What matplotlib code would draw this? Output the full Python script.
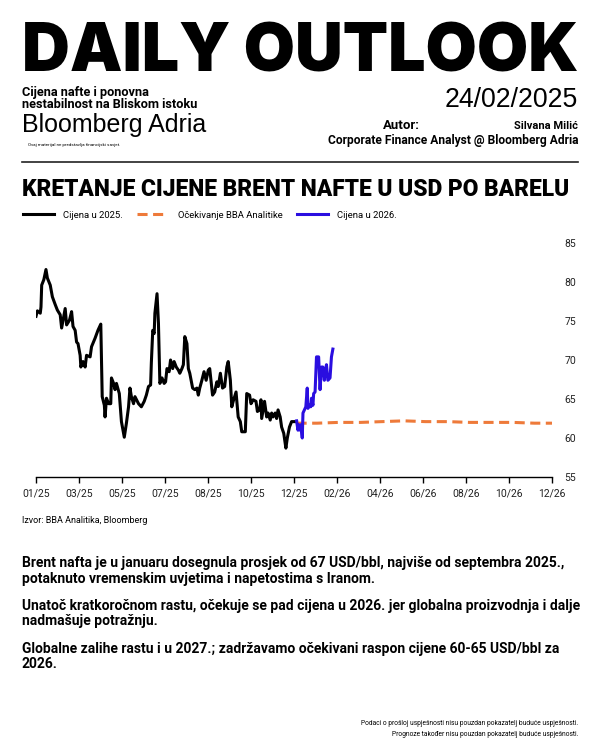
import numpy as np
import matplotlib
matplotlib.use("Agg")
from matplotlib import pyplot as plt

plt.rcParams['font.family'] = ['Roboto', 'DejaVu Sans']

# days since 01.01.2025
days_2025 = [0, 2, 6, 7, 8, 11, 14, 16, 20, 23, 27, 30, 34, 36, 38, 41, 43, 47, 50, 52,
             55, 57, 59, 62, 63, 66, 69, 71, 76, 78, 83, 87, 91, 92, 93, 96, 97, 99, 102, 105,
             106, 109, 111, 113, 117, 120, 124, 127, 130, 132, 134, 137, 139, 144, 148, 152, 155, 158, 161, 162,
             164, 166, 167, 170, 172, 174, 177, 180, 182, 184, 187, 189, 192, 194, 197, 200, 202, 205, 207, 209,
             212, 214, 216, 220, 223, 226, 228, 230, 233, 236, 239, 242, 244, 248, 251, 254, 256, 259, 262, 265,
             268, 270, 273, 275, 277, 281, 284, 287, 289, 294, 296, 300, 302, 305, 309, 311, 314, 316, 317, 319,
             321, 324, 326, 329, 331, 333, 336, 338, 340, 343, 345, 348, 351, 353, 356, 359, 366]
price_2025 = [75.6, 76.3, 76.0, 76.8, 79.6, 80.3, 81.6, 80.5, 79.6, 78.1, 77.1, 76.4, 75.8, 74.1, 75.1, 76.6, 74.5, 75.1, 76.2, 74.3,
              73.8, 72.3, 72.1, 70.6, 69.1, 69.8, 69.1, 70.6, 70.4, 71.7, 72.8, 73.8, 74.6, 69.6, 65.3, 64.2, 62.7, 65.1, 64.4, 64.4,
              67.7, 67.0, 66.2, 67.0, 65.7, 62.1, 60.1, 61.9, 64.0, 66.4, 65.3, 64.4, 65.3, 64.4, 64.0, 64.7, 65.5, 66.6, 66.8, 69.6,
              73.8, 73.4, 76.0, 78.5, 74.7, 67.0, 67.7, 67.0, 67.2, 68.9, 68.5, 70.0, 68.9, 69.8, 69.1, 68.7, 68.3, 68.9, 69.4, 73.0,
              72.1, 68.9, 68.3, 66.4, 66.2, 66.4, 65.5, 66.4, 67.4, 68.5, 67.4, 68.7, 68.9, 65.5, 65.9, 67.2, 66.6, 68.3, 66.4, 66.6,
              69.1, 69.8, 67.4, 64.0, 64.7, 65.9, 62.7, 62.1, 60.8, 60.8, 65.7, 65.5, 64.4, 64.9, 64.7, 63.4, 63.6, 64.9, 62.5, 63.6,
              64.7, 62.7, 63.2, 62.3, 63.2, 62.7, 63.2, 62.5, 63.6, 62.7, 61.4, 60.6, 58.7, 60.0, 61.4, 62.1, 62.1]

days_2026 = [366, 368, 369, 371, 372, 374, 375, 377, 379, 381, 382, 384, 386, 387, 389, 390, 392, 394, 397, 399,
             401, 403, 405, 406, 408, 410, 413, 415, 417]
price_2026 = [62.2, 61.0, 61.7, 61.0, 61.7, 60.0, 63.2, 63.6, 64.0, 66.4, 63.8, 64.2, 64.0, 65.1, 64.2, 65.7, 65.9, 70.4, 70.4, 66.2,
              69.1, 69.1, 67.4, 68.3, 69.4, 67.4, 67.7, 70.4, 71.4]

days_bba = [366, 395, 425, 456, 486, 517, 547, 578, 609, 639, 670, 700, 725]
price_bba = [61.9, 61.9, 62.0, 62.0, 62.1, 62.2, 62.1, 62.1, 62.0, 62.0, 62.0, 61.9, 61.9]

tick_labels = ['01/25', '03/25', '05/25', '07/25', '08/25', '10/25', '12/25',
               '02/26', '04/26', '06/26', '08/26', '10/26', '12/26']
tick_step = 60.4

paragraphs = [
    ["Brent nafta je u januaru dosegnula prosjek od 67 USD/bbl, najviše od septembra 2025.,",
     "potaknuto vremenskim uvjetima i napetostima s Iranom."],
    ["Unatoč kratkoročnom rastu, očekuje se pad cijena u 2026. jer globalna proizvodnja i dalje",
     "nadmašuje potražnju."],
    ["Globalne zalihe rastu i u 2027.; zadržavamo očekivani raspon cijene 60-65 USD/bbl za",
     "2026."],
]

W, H = 600, 750
fig = plt.figure(figsize=(6, 7.5), dpi=100)
fig.patch.set_facecolor('white')
renderer = fig.canvas.get_renderer()

def fx(px):
    return px / W

def fy(py):
    return 1 - py / H

def width_of(t):
    return t.get_window_extent(renderer).width

def fit_text(x, y, s, width, ha='left', **kw):
    # scale font so the text gets the width it has in the reference
    t = fig.text(fx(x), fy(y), s, fontsize=10, ha=ha, va='baseline', **kw)
    t.set_fontsize(10 * width / width_of(t))
    return t

# header
fit_text(22, 72, "DAILY OUTLOOK", 556, family=['Inter', 'DejaVu Sans'], fontweight='black')
fit_text(22, 108, "Cijena nafte i ponovna\nnestabilnost na Bliskom istoku", 176,
         fontweight='bold', linespacing=0.92)
fit_text(22, 132, "Bloomberg Adria", 186, family=['Liberation Sans', 'DejaVu Sans'])
fit_text(28, 146, "Ovaj materijal ne predstavlja financijski savjet.", 92)

fit_text(578, 107, "24/02/2025", 135, ha='right', family=['Liberation Sans', 'DejaVu Sans'])
fit_text(383, 129, "Autor:", 37, fontweight='bold')
fit_text(578, 129, "Silvana Milić", 64, ha='right', fontweight='bold')
fit_text(578, 144, "Corporate Finance Analyst @ Bloomberg Adria", 252, ha='right', fontweight='bold')

fig.add_artist(plt.Line2D([fx(22), fx(578)], [fy(162), fy(162)], color='#222222', lw=1.2))

fit_text(22, 196, "KRETANJE CIJENE BRENT NAFTE U USD PO BARELU", 548, fontweight='black')

# chart
ax = fig.add_axes([fx(36), fy(477), fx(552) - fx(36), fy(243) - fy(477)])
l1, = ax.plot(days_2025, price_2025, color='black', lw=2.2, solid_joinstyle='round')
l2, = ax.plot(days_bba, price_bba, color='#ee7a3a', lw=2.2, dashes=(3.3, 1.8))
l3, = ax.plot(days_2026, price_2026, color='#2a0ee0', lw=2.2, solid_joinstyle='round')

ax.set_xlim(0, tick_step * 12)
ax.set_ylim(55, 85)
ax.set_xticks([tick_step * i for i in range(len(tick_labels))])
ax.set_xticklabels(tick_labels)
ax.set_yticks([55, 60, 65, 70, 75, 80, 85])
ax.yaxis.tick_right()
ax.tick_params(axis='y', length=0, pad=9, labelsize=7.5, labelcolor='#222222')
ax.tick_params(axis='x', length=4, width=1, pad=4, labelsize=7.5, labelcolor='#222222')
for s in ['top', 'left', 'right']:
    ax.spines[s].set_visible(False)
ax.spines['bottom'].set_linewidth(1)

fig.legend([l1, l2, l3], ["Cijena u 2025.", "Očekivanje BBA Analitike", "Cijena u 2026."],
           loc='center left', bbox_to_anchor=(fx(14), fy(215)), ncol=3, frameon=False,
           fontsize=6.8, handlelength=3.3, columnspacing=1.5, handletextpad=1.0)

fig.text(fx(22), fy(523), "Izvor: BBA Analitika, Bloomberg", fontsize=6.5, va='baseline')

# body: one size for all, so that the widest first line ends at x=578
texts = []
y = 567
for para in paragraphs:
    for line in para:
        texts.append(fig.text(fx(22), fy(y), line, fontsize=10, fontweight='bold', va='baseline'))
        y += 15.5
    y += 12
size = 10 * 556 / max(width_of(t) for t in texts)
for t in texts:
    t.set_fontsize(size)

fig.text(fx(578), fy(725), "Podaci o prošloj uspješnosti nisu pouzdan pokazatelj buduće uspješnosti.",
         fontsize=4.8, ha='right', va='baseline')
fig.text(fx(578), fy(736), "Prognoze također nisu pouzdan pokazatelj buduće uspješnosti.",
         fontsize=4.8, ha='right', va='baseline')

fig.savefig('out.png', dpi=100)
